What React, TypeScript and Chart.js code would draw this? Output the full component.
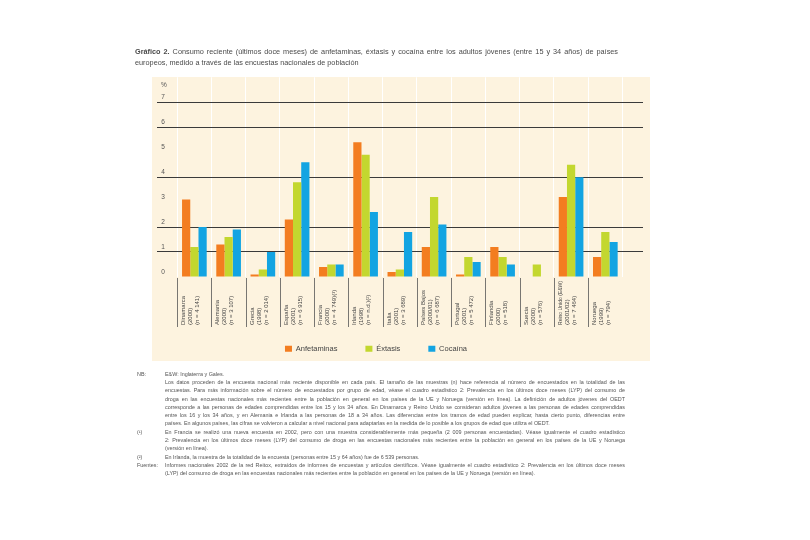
import React, { useEffect, useRef } from "react";
import { Chart, registerables } from "chart.js";

Chart.register(...registerables);

const countries = [
  "Dinamarca", "Alemania", "Grecia", "España", "Francia", "Irlanda", "Italia",
  "Países Bajos", "Portugal", "Finlandia", "Suecia", "Reino Unido (E&W)", "Noruega",
];
const surveyYears = [
  "(2000)", "(2000)", "(1998)", "(2001)", "(2000)", "(1998)", "(2001)",
  "(2000/01)", "(2001)", "(2000)", "(2000)", "(2001/02)", "(1999)",
];
const sampleSizes = [
  "(n = 4 141)", "(n = 3 107)", "(n = 2 014)", "(n = 6 915)", "(n = 4 749)(¹)", "(n = n.d.)(²)",
  "(n = 3 689)", "(n = 6 687)", "(n = 5 472)", "(n = 518)", "(n = 576)", "(n = 7 464)", "(n = 794)",
];
const seriesNames = ["Anfetaminas", "Éxtasis", "Cocaína"];
const anfetaminas = [3.1, 1.3, 0.1, 2.3, 0.4, 5.4, 0.2, 1.2, 0.1, 1.2, null, 3.2, 0.8];
const extasis = [1.2, 1.6, 0.3, 3.8, 0.5, 4.9, 0.3, 3.2, 0.8, 0.8, 0.5, 4.5, 1.8];
const cocaina = [2.0, 1.9, 1.0, 4.6, 0.5, 2.6, 1.8, 2.1, 0.6, 0.5, null, 4.0, 1.4];
const yTicks = [0, 1, 2, 3, 4, 5, 6, 7];
const yGridShown = [1, 2, 4, 6, 7];

const ORANGE = "#f37d20";
const GREEN = "#c3d72f";
const BLUE = "#13a4e2";
const CREAM = "#fdf3df";
const FONT = '"Liberation Sans", Arial, sans-serif';

const noteRows: [string, string, boolean][] = [
  ["NB:", "E&W: Inglaterra y Gales.", true],
  ["", "Los datos proceden de la encuesta nacional más reciente disponible en cada país. El tamaño de las muestras (n) hace referencia al número de encuestados en la totalidad de las", false],
  ["", "encuestas. Para más información sobre el número de encuestados por grupo de edad, véase el cuadro estadístico 2: Prevalencia en los últimos doce meses (LYP) del consumo de", false],
  ["", "droga en las encuestas nacionales más recientes entre la población en general en los países de la UE y Noruega (versión en línea). La definición de adultos jóvenes del OEDT", false],
  ["", "corresponde a las personas de edades comprendidas entre los 15 y los 34 años. En Dinamarca y Reino Unido se consideran adultos jóvenes a las personas de edades comprendidas", false],
  ["", "entre los 16 y los 34 años, y en Alemania e Irlanda a las personas de 18 a 34 años. Las diferencias entre los tramos de edad pueden explicar, hasta cierto punto, diferencias entre", false],
  ["", "países. En algunos países, las cifras se volvieron a calcular a nivel nacional para adaptarlas en la medida de lo posible a los grupos de edad que utiliza el OEDT.", true],
  ["(¹)", "En Francia se realizó una nueva encuesta en 2002, pero con una muestra considerablemente más pequeña (2 009 personas encuestadas). Véase igualmente el cuadro estadístico", false],
  ["", "2: Prevalencia en los últimos doce meses (LYP) del consumo de droga en las encuestas nacionales más recientes entre la población en general en los países de la UE y Noruega", false],
  ["", "(versión en línea).", true],
  ["(²)", "En Irlanda, la muestra de la totalidad de la encuesta (personas entre 15 y 64 años) fue de 6 539 personas.", true],
  ["Fuentes:", "Informes nacionales 2002 de la red Reitox, extraídos de informes de encuestas y artículos científicos. Véase igualmente el cuadro estadístico 2: Prevalencia en los últimos doce meses", false],
  ["", "(LYP) del consumo de droga en las encuestas nacionales más recientes entre la población en general en los países de la UE y Noruega (versión en línea).", true],
];

const labelPlugin = {
  id: "categoryLabels",
  afterDraw(chart: any) {
    const { ctx, chartArea, scales } = chart;
    const x = scales.x;
    ctx.save();
    ctx.strokeStyle = "#555";
    ctx.lineWidth = 0.8;
    ctx.fillStyle = "#444";
    ctx.font = `6px ${FONT}`;
    const top = chartArea.bottom + 1;
    const bottom = chartArea.bottom + 50;
    const maxLen = 44;
    countries.forEach((c, i) => {
      const x0 = Math.round(x.getPixelForValue(i - 0.5)) + 0.5;
      ctx.beginPath();
      ctx.moveTo(x0, top);
      ctx.lineTo(x0, bottom);
      ctx.stroke();
      [c, surveyYears[i], sampleSizes[i]].forEach((t, k) => {
        const w = ctx.measureText(t).width;
        const sx = w > maxLen ? maxLen / w : 1;
        ctx.save();
        ctx.translate(x0 + 2.5 + k * 7.2, bottom - 2);
        ctx.rotate(-Math.PI / 2);
        ctx.scale(sx, 1);
        ctx.textAlign = "left";
        ctx.textBaseline = "top";
        ctx.fillText(t, 0, 0);
        ctx.restore();
      });
    });
    ctx.restore();
  },
};

export default function App() {
  const ref = useRef<HTMLCanvasElement | null>(null);

  useEffect(() => {
    if (!ref.current) return;
    Chart.defaults.font.family = FONT;
    const toPts = (arr: (number | null)[]) => arr.map((v, i) => ({ x: i, y: v }));
    const chart = new Chart(ref.current, {
      type: "bar",
      data: {
        datasets: [
          { label: seriesNames[0], data: toPts(anfetaminas) as any, backgroundColor: ORANGE },
          { label: seriesNames[1], data: toPts(extasis) as any, backgroundColor: GREEN },
          { label: seriesNames[2], data: toPts(cocaina) as any, backgroundColor: BLUE },
        ],
      },
      options: {
        animation: false,
        responsive: false,
        layout: { padding: { left: 109, right: 167, top: 77.3, bottom: 17.5 } },
        datasets: { bar: { categoryPercentage: 0.72, barPercentage: 1, borderWidth: 0 } },
        scales: {
          x: {
            type: "linear",
            min: -1.1,
            max: 13.1,
            offset: false,
            z: -1,
            afterBuildTicks: (s: any) => {
              s.ticks = countries.map((_, i) => ({ value: i - 0.5 })).concat([{ value: countries.length - 0.5 }]);
            },
            afterFit: (s: any) => {
              s.height = 40;
            },
            grid: { color: "#ffffff", lineWidth: 1, drawTicks: false, offset: false },
            border: { display: false },
            ticks: { display: false },
          },
          y: {
            min: 0,
            max: 8,
            afterBuildTicks: (s: any) => {
              s.ticks = yTicks.map((v) => ({ value: v }));
            },
            afterFit: (s: any) => {
              s.width = 47.7;
            },
            grid: {
              color: (c: any) => (yGridShown.includes(c.tick?.value) ? "#3a3a3a" : "rgba(0,0,0,0)"),
              lineWidth: 1.1,
              drawTicks: false,
            },
            border: { display: false },
            ticks: { mirror: true, padding: 4.5, labelOffset: -5, color: "#555", font: { size: 6.5 } },
          },
        },
        plugins: {
          legend: {
            position: "bottom",
            labels: { boxWidth: 7, boxHeight: 6, padding: 28, color: "#444", font: { size: 7.5 } },
          },
          tooltip: { enabled: false },
        },
      },
      plugins: [labelPlugin],
    });
    return () => chart.destroy();
  }, []);

  return (
    <div style={{ position: "absolute", left: 0, top: 0, width: 810, height: 540, background: "#fff", overflow: "hidden", fontFamily: FONT, color: "#4a4a4a" }}>
      <div style={{ position: "absolute", left: 152, top: 77, width: 498, height: 284, background: CREAM }} />
      <canvas ref={ref} width={810} height={380} style={{ position: "absolute", left: 0, top: 0, width: 810, height: 380 }} />
      <div style={{ position: "absolute", left: 135, top: 45.5, width: 483, fontSize: 7.3, lineHeight: "11.7px", whiteSpace: "nowrap" }}>
        <div style={{ textAlign: "justify", textAlignLast: "justify" }}>
          <b>Gráfico 2.</b> Consumo reciente (últimos doce meses) de anfetaminas, éxtasis y cocaína entre los adultos jóvenes (entre 15 y 34 años) de países
        </div>
        <div>europeos, medido a través de las encuestas nacionales de población</div>
      </div>
      <div style={{ position: "absolute", left: 161, top: 81, fontSize: 6.5, color: "#555" }}>%</div>
      <div style={{ position: "absolute", left: 137, top: 369.9, fontSize: 5.4, lineHeight: "8.28px", color: "#555" }}>
        {noteRows.map(([lab, txt, last], i) => (
          <div key={i} style={{ display: "flex", whiteSpace: "nowrap", height: 8.28 }}>
            <div style={{ width: 28 }}>{lab}</div>
            <div style={{ width: 460, textAlign: "justify", textAlignLast: last ? "left" : "justify" }}>{txt}</div>
          </div>
        ))}
      </div>
    </div>
  );
}
